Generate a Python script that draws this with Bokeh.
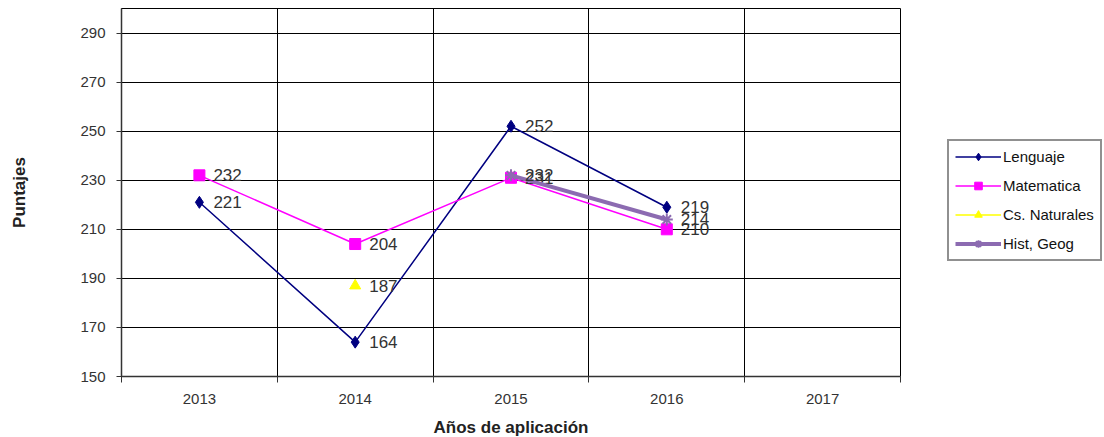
from bokeh.plotting import figure
from bokeh.models import FixedTicker, Legend, LegendItem, Range1d, ColumnDataSource
from bokeh.embed import file_html
from bokeh.resources import INLINE
import numpy as np

years = ["2013", "2014", "2015", "2016", "2017"]
lenguaje = [221, 164, 252, 219]
matematica = [232, 204, 231, 210]
cs_naturales = [None, 187, None, None]
hist_geog = [None, None, 232, 214]

xs = [1, 2, 3, 4]

p = figure(width=1100, height=437, output_backend="svg", toolbar_location=None,
           x_range=Range1d(0.5, 5.5), y_range=Range1d(150, 300),
           min_border_left=121, min_border_right=200, min_border_top=8, min_border_bottom=61)
p.frame_width = 779
p.frame_height = 368
p.outline_line_color = "black"
p.outline_line_width = 1
p.background_fill_color = "white"
p.border_fill_color = "white"

FONT = "Liberation Sans"

# y axis
p.yaxis.ticker = FixedTicker(ticks=list(range(150, 300, 20)))
p.yaxis.major_tick_in = 0
p.yaxis.major_tick_out = 5
p.yaxis.minor_tick_line_color = None
p.yaxis.axis_line_color = "#333333"
p.yaxis.axis_line_width = 1.5
p.yaxis.major_tick_line_color = "#333333"
p.yaxis.major_label_text_font = FONT
p.yaxis.major_label_text_font_size = "15px"
p.yaxis.major_label_text_color = "#333333"
p.yaxis.major_label_standoff = 11
p.yaxis.axis_label = "Puntajes"
p.yaxis.axis_label_text_font = FONT
p.yaxis.axis_label_text_font_style = "bold"
p.yaxis.axis_label_text_font_size = "17px"
p.yaxis.axis_label_text_color = "#222222"
p.yaxis.axis_label_standoff = 48

# x axis
p.xaxis.ticker = FixedTicker(ticks=[1, 2, 3, 4, 5], minor_ticks=[0.5, 1.5, 2.5, 3.5, 4.5, 5.5])
p.xaxis.major_label_overrides = {i + 1: y for i, y in enumerate(years)}
p.xaxis.major_tick_line_color = None
p.xaxis.major_tick_in = 0
p.xaxis.major_tick_out = 0
p.xaxis.minor_tick_in = 0
p.xaxis.minor_tick_out = 6
p.xaxis.minor_tick_line_color = "#333333"
p.xaxis.axis_line_color = "#333333"
p.xaxis.axis_line_width = 1.5
p.xaxis.major_label_text_font = FONT
p.xaxis.major_label_text_font_size = "15px"
p.xaxis.major_label_text_color = "#333333"
p.xaxis.major_label_standoff = 11
p.xaxis.axis_label = "Años de aplicación"
p.xaxis.axis_label_text_font = FONT
p.xaxis.axis_label_text_font_style = "bold"
p.xaxis.axis_label_text_font_size = "17px"
p.xaxis.axis_label_text_color = "#222222"
p.xaxis.axis_label_standoff = 11

# grids
p.ygrid.ticker = FixedTicker(ticks=list(range(150, 300, 20)))
p.ygrid.grid_line_color = "black"
p.ygrid.grid_line_width = 1
p.xgrid.ticker = FixedTicker(ticks=[1.5, 2.5, 3.5, 4.5])
p.xgrid.grid_line_color = "black"
p.xgrid.grid_line_width = 1

def clean(vals):
    return [np.nan if v is None else v for v in vals]

series = [
    ("Lenguaje", lenguaje, "#000080", 1.5, "diamond", 12),
    ("Matematica", matematica, "#FF00FF", 1.5, "square", 11),
    ("Cs. Naturales", cs_naturales, "#FFFF00", 1.5, "triangle", 11),
    ("Hist, Geog", hist_geog, "#8C6BB1", 4, "asterisk", 12),
]

items = []
for name, vals, col, lw, mk, ms in series:
    v = clean(vals)
    src = ColumnDataSource(dict(x=xs, y=v, t=["" if np.isnan(a) else str(int(a)) for a in v]))
    l = p.line("x", "y", source=src, line_color=col, line_width=lw)
    m = p.scatter("x", "y", source=src, marker=mk, size=ms, fill_color=col, line_color=col,
                  line_width=2 if mk == "asterisk" else 1)
    p.text("x", "y", text="t", source=src, x_offset=14, text_baseline="middle",
           text_font_size="17px", text_color="#333333", text_font={"value": FONT})
    items.append(LegendItem(label=name, renderers=[l, m]))

legend = Legend(items=items, location=(47, 115), orientation="vertical",
                label_text_font=FONT, label_text_font_size="15px", label_text_color="#111111",
                glyph_width=46, glyph_height=19, spacing=10, padding=6, margin=0,
                border_line_color="#222222", border_line_width=2,
                background_fill_color="white", label_standoff=2)
p.add_layout(legend, "right")

open("out.html", "w").write(file_html(p, INLINE))
